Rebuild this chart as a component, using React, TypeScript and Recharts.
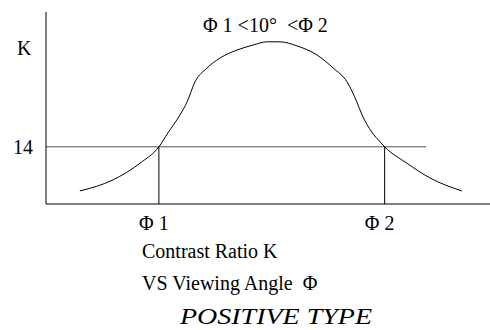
import { LineChart, Line, XAxis, YAxis, ReferenceLine, Customized } from 'recharts'

// viewing angle (deg) and contrast ratio K
const angles = [-41, -32.2, -25, -20, -17.6, -14.4, -12.5, -10.4, -7.2, -3.8, 0.8, 5, 8.7, 12.2, 16.7, 22, 26.3, 30, 32.6, 34, 36.6, 38.8, 40, 45.9, 52, 60.5]
const contrast = [3.2, 5.9, 10, 14, 17.4, 21.8, 25, 29.9, 33.3, 35.7, 37.7, 38.9, 39.7, 39.7, 38.7, 36.5, 33.3, 29.9, 25, 21.8, 17.6, 15.2, 14, 10, 6.4, 3.2]

const phiTicks = [-20, 40]
const phiLabels = ['Φ 1', 'Φ 2']
const kTicks = [14]
const kThreshold = 14
const lineEnd = 51

const data = angles.map((a, i) => ({ angle: a, k: contrast[i] }))

const font = 'Liberation Serif'

const PhiTick = (props: any) => {
  const { x, y, payload } = props
  const idx = phiTicks.indexOf(payload.value)
  return (
    <text x={x - 5} y={y + 18} textAnchor="middle" style={{ fontFamily: font }} fontSize={20} fill="#000">
      {phiLabels[idx]}
    </text>
  )
}

const Captions = () => (
  <g style={{ fontFamily: font }} fill="#000">
    <text x={17} y={55} fontSize={20}>K</text>
    <text x={203} y={32} fontSize={20} style={{ whiteSpace: 'pre', fontFamily: font }}>{'Φ 1 <10°  <Φ 2'}</text>
    <text x={142} y={258} fontSize={20}>Contrast Ratio K</text>
    <text x={142} y={290} fontSize={20} style={{ whiteSpace: 'pre', fontFamily: font }}>{'VS Viewing Angle  Φ'}</text>
    <text x={180} y={324} fontSize={23} fontStyle="italic" textLength={192} lengthAdjust="spacingAndGlyphs">
      POSITIVE TYPE
    </text>
  </g>
)

export default function App() {
  return (
    <div style={{ position: 'absolute', left: 0, top: 0, background: '#fff' }}>
      <LineChart width={490} height={330} data={data} margin={{ top: 12, right: 0, bottom: 96, left: 0 }}>
        <XAxis
          dataKey="angle"
          type="number"
          domain={[-50, 68]}
          ticks={phiTicks}
          tickLine={false}
          tick={<PhiTick />}
          axisLine={{ stroke: '#000' }}
          height={30}
        />
        <YAxis
          type="number"
          domain={[0, 47]}
          ticks={kTicks}
          tickLine={false}
          tickMargin={7}
          width={46}
          axisLine={{ stroke: '#000' }}
          tick={{ fill: '#000', fontSize: 20, style: { fontFamily: font } }}
        />
        <ReferenceLine segment={[{ x: -50, y: kThreshold }, { x: lineEnd, y: kThreshold }]} stroke="#555" />
        <ReferenceLine segment={[{ x: phiTicks[0], y: 0 }, { x: phiTicks[0], y: kThreshold }]} stroke="#000" />
        <ReferenceLine segment={[{ x: phiTicks[1], y: 0 }, { x: phiTicks[1], y: kThreshold }]} stroke="#000" />
        <Line type="monotone" dataKey="k" stroke="#000" strokeWidth={1} dot={false} isAnimationActive={false} />
        <Customized component={Captions} />
      </LineChart>
    </div>
  )
}
